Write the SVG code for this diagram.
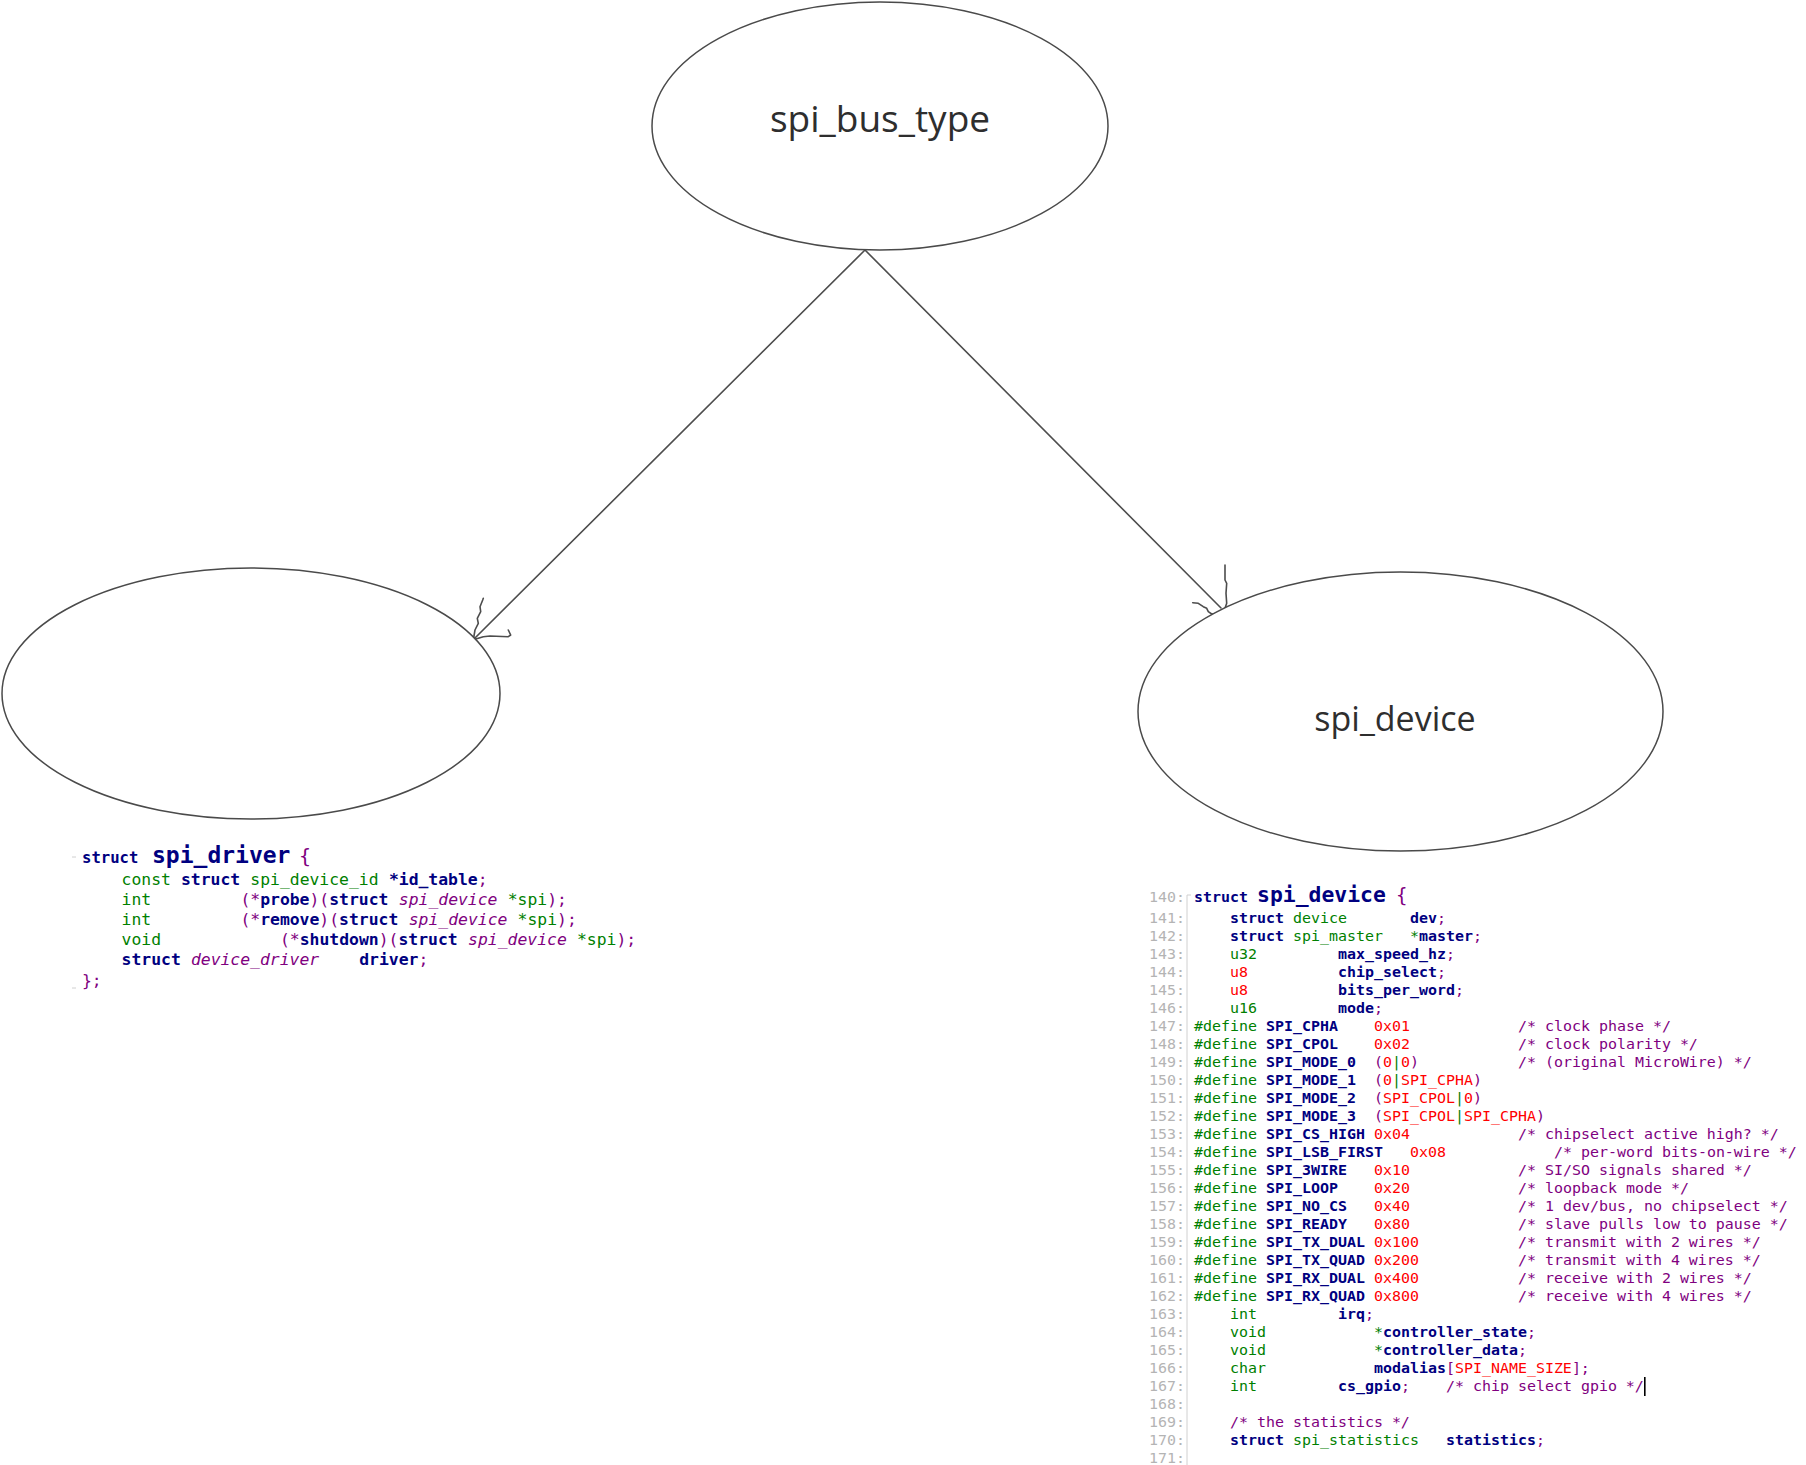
<svg xmlns="http://www.w3.org/2000/svg" width="1806" height="1465" viewBox="0 0 1806 1465">
  <style>
    .node { fill: #ffffff; stroke: #4a4a4a; stroke-width: 1.5; }
    .label { font-family: "Open Sans", "Noto Sans", "Liberation Sans", sans-serif; fill: #2e2e2e; text-anchor: middle; }
    .edge { fill: none; stroke: #4d4d4d; stroke-width: 1.6; stroke-linecap: round; stroke-linejoin: round; }
    .code { font-family: "DejaVu Sans Mono", "Liberation Mono", monospace; }
    .n { fill: #000080; font-weight: bold; }
    .g { fill: #008000; }
    .p { fill: #800080; }
    .r { fill: #ff0000; }
    .cm { fill: #800080; }
    .it { fill: #800080; font-style: italic; }
    .ln { fill: #b4b4b4; }
    .gut { stroke: #d0d0d0; stroke-width: 1; fill: none; }
  </style>

  <rect width="1806" height="1465" fill="#ffffff"/>

  <!-- connectors from the bus type to the driver and the device -->
  <g id="connectors">
    <line class="edge" x1="865" y1="250" x2="474" y2="639"/>
    <path class="edge" d="M473.3,640 L475,630 L478.3,623.3 L477.3,618.3 L480.7,611.7 L480,606.7 L482.7,600 L483.3,598.3"/>
    <path class="edge" d="M471,642 L475,639.3 L483.3,636.7 L490,636 L508.3,636.7 L510.7,635 L508.3,630"/>
    <line class="edge" x1="865" y1="250" x2="1221" y2="608"/>
    <path class="edge" d="M1225,565 L1225,580 L1226.7,583.3 L1226,593.3 L1226.7,603.3 L1225,608.3 L1228.3,613.3 L1211.7,614"/>
    <path class="edge" d="M1192.7,602.7 L1198.3,603.3 L1203.3,606.7 L1206.7,608.3 L1208.3,611.7 L1211.7,614"/>
  </g>

  <g id="spi_bus_type">
    <ellipse class="node" cx="880" cy="126" rx="228" ry="124"/>
    <text class="label" x="880" y="132" font-size="37">spi_bus_type</text>
  </g>

  <g id="spi_driver">
    <ellipse class="node" cx="251" cy="693.5" rx="249" ry="125.5"/>
  </g>

  <g id="spi_device">
    <ellipse class="node" cx="1400.5" cy="711.5" rx="262.5" ry="139.5"/>
    <text class="label" x="1395" y="731" font-size="34">spi_device</text>
  </g>

  <!-- struct spi_driver listing; columns are 9.9px wide -->
  <g id="spi_driver_code" class="code" font-size="16.4">
    <line class="gut" x1="72" y1="857" x2="76" y2="857"/>
    <line class="gut" x1="72" y1="988" x2="76" y2="988"/>
    <text x="82" y="863" class="n" font-size="15.6">struct</text>
    <text x="152" y="863" class="n" font-size="23">spi_driver</text>
    <text x="299" y="863" class="p" font-size="20">{</text>
    <text y="885"><tspan x="121.6" class="g">const</tspan><tspan x="181" class="n">struct</tspan><tspan x="250.3" class="g">spi_device_id</tspan><tspan x="388.9" class="n">*id_table</tspan><tspan class="p">;</tspan></text>
    <text y="905"><tspan x="121.6" class="g">int</tspan><tspan x="240.4" class="p">(*</tspan><tspan class="n">probe</tspan><tspan class="p">)(</tspan><tspan class="n">struct</tspan><tspan x="398.8" class="it">spi_device</tspan><tspan x="507.7" class="g">*spi</tspan><tspan class="p">);</tspan></text>
    <text y="925"><tspan x="121.6" class="g">int</tspan><tspan x="240.4" class="p">(*</tspan><tspan class="n">remove</tspan><tspan class="p">)(</tspan><tspan class="n">struct</tspan><tspan x="408.7" class="it">spi_device</tspan><tspan x="517.6" class="g">*spi</tspan><tspan class="p">);</tspan></text>
    <text y="945"><tspan x="121.6" class="g">void</tspan><tspan x="280" class="p">(*</tspan><tspan class="n">shutdown</tspan><tspan class="p">)(</tspan><tspan class="n">struct</tspan><tspan x="468.1" class="it">spi_device</tspan><tspan x="577" class="g">*spi</tspan><tspan class="p">);</tspan></text>
    <text y="965"><tspan x="121.6" class="n">struct</tspan><tspan x="190.9" class="it">device_driver</tspan><tspan x="359.2" class="n">driver</tspan><tspan class="p">;</tspan></text>
    <text x="82" y="986" class="p">};</text>
  </g>

  <!-- struct spi_device listing with line numbers; columns are 9px wide from x=1194 -->
  <g id="spi_device_code" class="code" font-size="14.95">
    <path class="gut" d="M1191,895 L1187,895 L1187,1465"/>
    <g class="ln">
      <text x="1149" y="902">140:</text>
      <text x="1149" y="923">141:</text>
      <text x="1149" y="941">142:</text>
      <text x="1149" y="959">143:</text>
      <text x="1149" y="977">144:</text>
      <text x="1149" y="995">145:</text>
      <text x="1149" y="1013">146:</text>
      <text x="1149" y="1031">147:</text>
      <text x="1149" y="1049">148:</text>
      <text x="1149" y="1067">149:</text>
      <text x="1149" y="1085">150:</text>
      <text x="1149" y="1103">151:</text>
      <text x="1149" y="1121">152:</text>
      <text x="1149" y="1139">153:</text>
      <text x="1149" y="1157">154:</text>
      <text x="1149" y="1175">155:</text>
      <text x="1149" y="1193">156:</text>
      <text x="1149" y="1211">157:</text>
      <text x="1149" y="1229">158:</text>
      <text x="1149" y="1247">159:</text>
      <text x="1149" y="1265">160:</text>
      <text x="1149" y="1283">161:</text>
      <text x="1149" y="1301">162:</text>
      <text x="1149" y="1319">163:</text>
      <text x="1149" y="1337">164:</text>
      <text x="1149" y="1355">165:</text>
      <text x="1149" y="1373">166:</text>
      <text x="1149" y="1391">167:</text>
      <text x="1149" y="1409">168:</text>
      <text x="1149" y="1427">169:</text>
      <text x="1149" y="1445">170:</text>
      <text x="1149" y="1463">171:</text>
    </g>
    <text x="1194" y="902" class="n">struct</text>
    <text x="1257" y="902" class="n" font-size="21.4">spi_device</text>
    <text x="1396" y="902" class="p" font-size="19">{</text>
    <text y="923"><tspan x="1230" class="n">struct</tspan><tspan x="1293" class="g">device</tspan><tspan x="1410" class="n">dev</tspan><tspan class="p">;</tspan></text>
    <text y="941"><tspan x="1230" class="n">struct</tspan><tspan x="1293" class="g">spi_master</tspan><tspan x="1410" class="g">*</tspan><tspan class="n">master</tspan><tspan class="p">;</tspan></text>
    <text y="959"><tspan x="1230" class="g">u32</tspan><tspan x="1338" class="n">max_speed_hz</tspan><tspan class="p">;</tspan></text>
    <text y="977"><tspan x="1230" class="r">u8</tspan><tspan x="1338" class="n">chip_select</tspan><tspan class="p">;</tspan></text>
    <text y="995"><tspan x="1230" class="r">u8</tspan><tspan x="1338" class="n">bits_per_word</tspan><tspan class="p">;</tspan></text>
    <text y="1013"><tspan x="1230" class="g">u16</tspan><tspan x="1338" class="n">mode</tspan><tspan class="p">;</tspan></text>
    <text y="1031"><tspan x="1194" class="g">#define</tspan><tspan x="1266" class="n">SPI_CPHA</tspan><tspan x="1374" class="r">0x01</tspan><tspan x="1518" class="cm">/* clock phase */</tspan></text>
    <text y="1049"><tspan x="1194" class="g">#define</tspan><tspan x="1266" class="n">SPI_CPOL</tspan><tspan x="1374" class="r">0x02</tspan><tspan x="1518" class="cm">/* clock polarity */</tspan></text>
    <text y="1067"><tspan x="1194" class="g">#define</tspan><tspan x="1266" class="n">SPI_MODE_0</tspan><tspan x="1374" class="p">(</tspan><tspan class="r">0</tspan><tspan class="g">|</tspan><tspan class="r">0</tspan><tspan class="p">)</tspan><tspan x="1518" class="cm">/* (original MicroWire) */</tspan></text>
    <text y="1085"><tspan x="1194" class="g">#define</tspan><tspan x="1266" class="n">SPI_MODE_1</tspan><tspan x="1374" class="p">(</tspan><tspan class="r">0</tspan><tspan class="g">|</tspan><tspan class="r">SPI_CPHA</tspan><tspan class="p">)</tspan></text>
    <text y="1103"><tspan x="1194" class="g">#define</tspan><tspan x="1266" class="n">SPI_MODE_2</tspan><tspan x="1374" class="p">(</tspan><tspan class="r">SPI_CPOL</tspan><tspan class="g">|</tspan><tspan class="r">0</tspan><tspan class="p">)</tspan></text>
    <text y="1121"><tspan x="1194" class="g">#define</tspan><tspan x="1266" class="n">SPI_MODE_3</tspan><tspan x="1374" class="p">(</tspan><tspan class="r">SPI_CPOL</tspan><tspan class="g">|</tspan><tspan class="r">SPI_CPHA</tspan><tspan class="p">)</tspan></text>
    <text y="1139"><tspan x="1194" class="g">#define</tspan><tspan x="1266" class="n">SPI_CS_HIGH</tspan><tspan x="1374" class="r">0x04</tspan><tspan x="1518" class="cm">/* chipselect active high? */</tspan></text>
    <text y="1157"><tspan x="1194" class="g">#define</tspan><tspan x="1266" class="n">SPI_LSB_FIRST</tspan><tspan x="1410" class="r">0x08</tspan><tspan x="1554" class="cm">/* per-word bits-on-wire */</tspan></text>
    <text y="1175"><tspan x="1194" class="g">#define</tspan><tspan x="1266" class="n">SPI_3WIRE</tspan><tspan x="1374" class="r">0x10</tspan><tspan x="1518" class="cm">/* SI/SO signals shared */</tspan></text>
    <text y="1193"><tspan x="1194" class="g">#define</tspan><tspan x="1266" class="n">SPI_LOOP</tspan><tspan x="1374" class="r">0x20</tspan><tspan x="1518" class="cm">/* loopback mode */</tspan></text>
    <text y="1211"><tspan x="1194" class="g">#define</tspan><tspan x="1266" class="n">SPI_NO_CS</tspan><tspan x="1374" class="r">0x40</tspan><tspan x="1518" class="cm">/* 1 dev/bus, no chipselect */</tspan></text>
    <text y="1229"><tspan x="1194" class="g">#define</tspan><tspan x="1266" class="n">SPI_READY</tspan><tspan x="1374" class="r">0x80</tspan><tspan x="1518" class="cm">/* slave pulls low to pause */</tspan></text>
    <text y="1247"><tspan x="1194" class="g">#define</tspan><tspan x="1266" class="n">SPI_TX_DUAL</tspan><tspan x="1374" class="r">0x100</tspan><tspan x="1518" class="cm">/* transmit with 2 wires */</tspan></text>
    <text y="1265"><tspan x="1194" class="g">#define</tspan><tspan x="1266" class="n">SPI_TX_QUAD</tspan><tspan x="1374" class="r">0x200</tspan><tspan x="1518" class="cm">/* transmit with 4 wires */</tspan></text>
    <text y="1283"><tspan x="1194" class="g">#define</tspan><tspan x="1266" class="n">SPI_RX_DUAL</tspan><tspan x="1374" class="r">0x400</tspan><tspan x="1518" class="cm">/* receive with 2 wires */</tspan></text>
    <text y="1301"><tspan x="1194" class="g">#define</tspan><tspan x="1266" class="n">SPI_RX_QUAD</tspan><tspan x="1374" class="r">0x800</tspan><tspan x="1518" class="cm">/* receive with 4 wires */</tspan></text>
    <text y="1319"><tspan x="1230" class="g">int</tspan><tspan x="1338" class="n">irq</tspan><tspan class="p">;</tspan></text>
    <text y="1337"><tspan x="1230" class="g">void</tspan><tspan x="1374" class="g">*</tspan><tspan class="n">controller_state</tspan><tspan class="p">;</tspan></text>
    <text y="1355"><tspan x="1230" class="g">void</tspan><tspan x="1374" class="g">*</tspan><tspan class="n">controller_data</tspan><tspan class="p">;</tspan></text>
    <text y="1373"><tspan x="1230" class="g">char</tspan><tspan x="1374" class="n">modalias</tspan><tspan class="p">[</tspan><tspan class="r">SPI_NAME_SIZE</tspan><tspan class="p">];</tspan></text>
    <text y="1391"><tspan x="1230" class="g">int</tspan><tspan x="1338" class="n">cs_gpio</tspan><tspan class="p">;</tspan><tspan x="1446" class="cm">/* chip select gpio */</tspan></text>
    <rect x="1644" y="1377" width="1.6" height="19" fill="#000000"/>
    <text y="1427"><tspan x="1230" class="cm">/* the statistics */</tspan></text>
    <text y="1445"><tspan x="1230" class="n">struct</tspan><tspan x="1293" class="g">spi_statistics</tspan><tspan x="1446" class="n">statistics</tspan><tspan class="p">;</tspan></text>
  </g>
</svg>
